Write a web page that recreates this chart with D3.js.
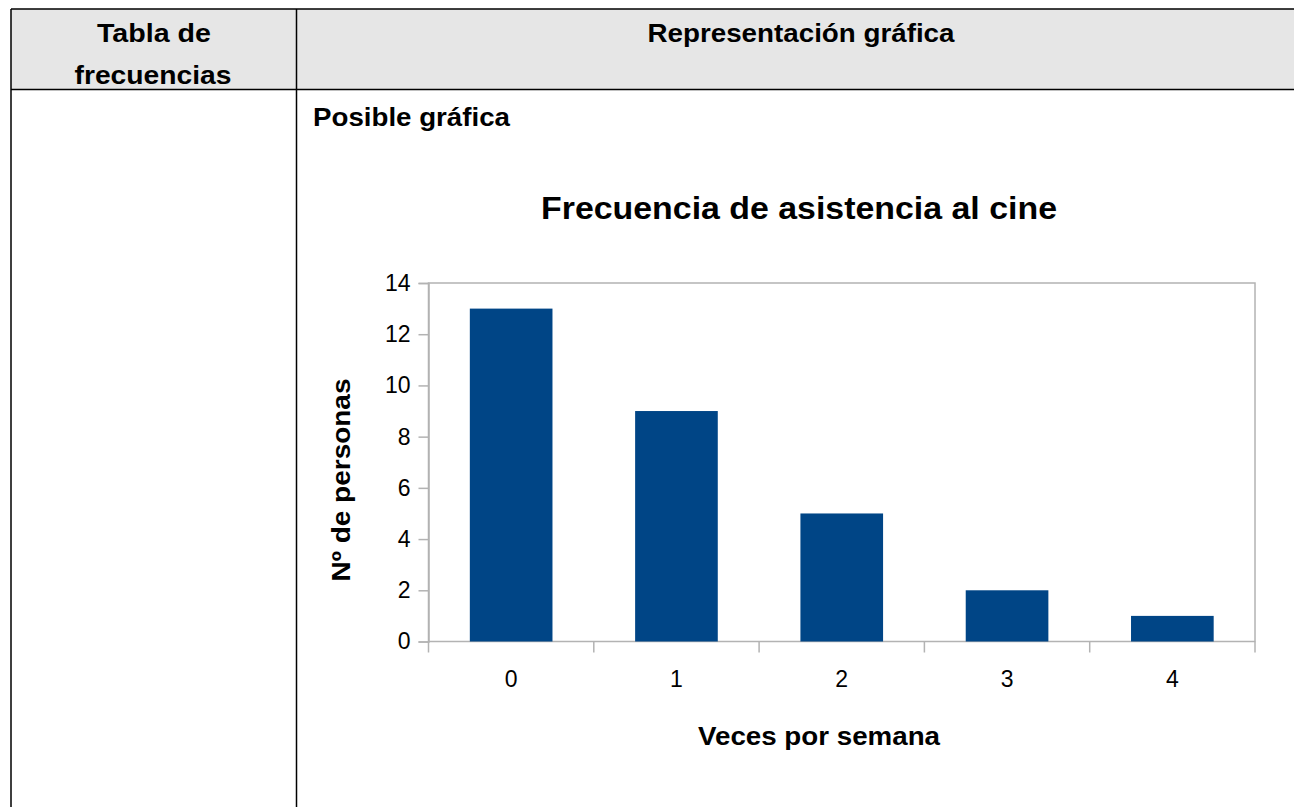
<html>
<head>
<title>Frecuencia de asistencia al cine</title>
<script src="https://cdn.jsdelivr.net/npm/d3@7"></script>
<style>
body { margin: 0; background: #fff; }
svg { display: block; }
.heavy { font-family: 'Liberation Sans', Arial, sans-serif; font-weight: bold; }
.lbl { font-family: 'Liberation Sans', Arial, sans-serif; fill: #000; }
</style>
</head>
<body>
<svg width="1294" height="807"></svg>
<script>
// data
var categories = ["0", "1", "2", "3", "4"];
var counts = [13, 9, 5, 2, 1];
var yTicks = [0, 2, 4, 6, 8, 10, 12, 14];

var svg = d3.select("svg");

// bold heading text, stretched to the widths seen in the picture
function heading(x, y, size, len, txt, anchor) {
  return svg.append("text").attr("class", "heavy")
    .attr("x", x).attr("y", y)
    .attr("text-anchor", anchor || "middle")
    .attr("font-size", size)
    .attr("textLength", len).attr("lengthAdjust", "spacingAndGlyphs")
    .text(txt);
}

// table frame
svg.append("rect").attr("x", 11).attr("y", 9).attr("width", 1300).attr("height", 80)
  .attr("fill", "#e6e6e6");
svg.append("path")
  .attr("d", "M11,9H1300 M11,89.5H1300 M11,9V820 M296.5,9V820")
  .attr("stroke", "#000").attr("stroke-width", 1.5).attr("fill", "none");

heading(154, 42, 25, 114, "Tabla de");
heading(153, 84, 25, 157, "frecuencias");
heading(801, 42, 25, 307, "Representación gráfica");
heading(313, 126, 25, 197, "Posible gráfica", "start");

// chart
var pLeft = 428.5, pRight = 1255, pTop = 283, pBottom = 641.5;

var x = d3.scaleBand().domain(categories).range([pLeft, pRight])
  .paddingInner(0.5).paddingOuter(0.25);
var y = d3.scaleLinear().domain([0, 14]).range([pBottom, pTop]);

heading(799, 219, 31, 516, "Frecuencia de asistencia al cine");

// plot frame
svg.append("rect").attr("x", pLeft).attr("y", pTop)
  .attr("width", pRight - pLeft).attr("height", pBottom - pTop)
  .attr("fill", "none").attr("stroke", "#b3b3b3").attr("stroke-width", 1.5);

svg.selectAll("rect.bar").data(counts).enter().append("rect")
  .attr("class", "bar")
  .attr("x", function (d, i) { return x(categories[i]); })
  .attr("width", x.bandwidth())
  .attr("y", function (d) { return y(d); })
  .attr("height", function (d) { return pBottom - y(d); })
  .attr("fill", "#004586");

var yAxis = svg.append("g").attr("transform", "translate(" + pLeft + ",0)")
  .call(d3.axisLeft(y).tickValues(yTicks).tickSize(10).tickPadding(8));
yAxis.select(".domain").attr("stroke", "#b3b3b3").attr("stroke-width", 1.5);
yAxis.selectAll(".tick line").attr("stroke", "#b3b3b3").attr("stroke-width", 1.5);
yAxis.selectAll(".tick text").attr("class", "lbl").attr("font-size", 23).attr("fill", "#000");

// x axis: ticks on category boundaries, labels in band centres
var step = (pRight - pLeft) / categories.length;
var edges = d3.range(categories.length + 1).map(function (i) { return pLeft + i * step; });
svg.selectAll("line.xtick").data(edges).enter().append("line")
  .attr("class", "xtick")
  .attr("x1", function (d) { return d; }).attr("x2", function (d) { return d; })
  .attr("y1", pBottom).attr("y2", pBottom + 11)
  .attr("stroke", "#b3b3b3").attr("stroke-width", 1.5);
svg.selectAll("text.xlab").data(categories).enter().append("text")
  .attr("class", "lbl xlab")
  .attr("x", function (d) { return x(d) + x.bandwidth() / 2; })
  .attr("y", 687)
  .attr("font-size", 23)
  .attr("text-anchor", "middle")
  .text(function (d) { return d; });

heading(819, 745, 25, 242, "Veces por semana");
svg.append("text").attr("class", "heavy")
  .attr("transform", "translate(350,480) rotate(-90)")
  .attr("text-anchor", "middle").attr("font-size", 25)
  .attr("textLength", 203).attr("lengthAdjust", "spacingAndGlyphs")
  .text("Nº de personas");
</script>
</body>
</html>
